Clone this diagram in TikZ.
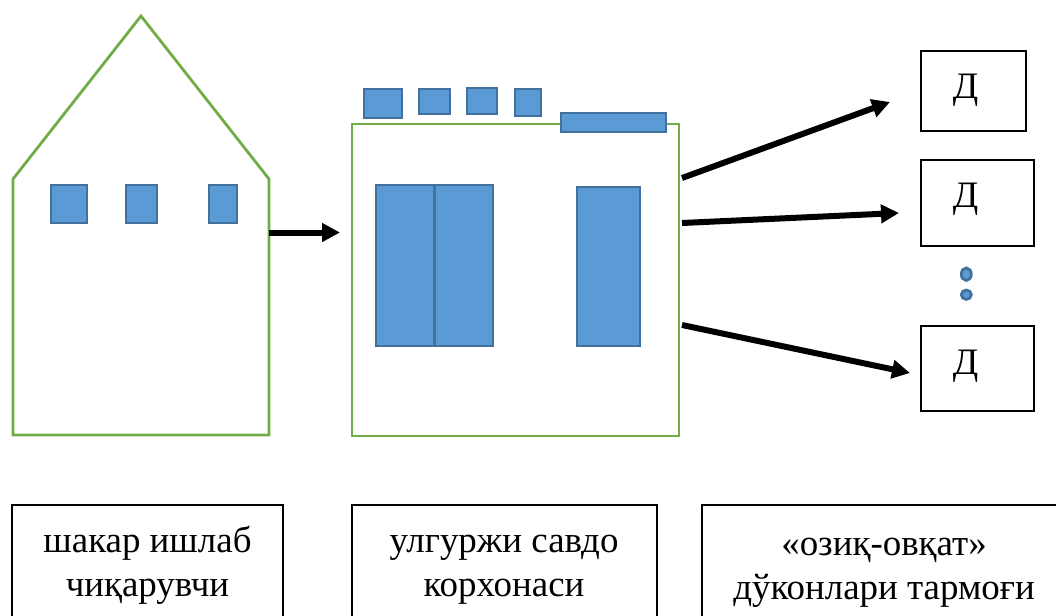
\documentclass[tikz,border=0pt]{standalone}
\usepackage{fontspec}
\setmainfont{Liberation Serif}
\usetikzlibrary{arrows.meta,shapes.geometric}
\definecolor{wallgreen}{HTML}{70AD47}
\definecolor{blockfill}{HTML}{5B9BD5}
\definecolor{blockline}{HTML}{41719C}
\tikzset{
  x=0.75pt,y=-0.75pt,
  wall/.style={draw=wallgreen,line width=2.1pt,line join=miter},
  block/.style={draw=blockline,fill=blockfill,line width=2.1pt},
  framebox/.style={draw=black,line width=2.1pt},
  flow/.style={draw=black,line width=4.5pt,-{Triangle[length=13.5pt,width=13.5pt]}},
  shoplabel/.style={font=\fontsize{28pt}{34pt}\selectfont},
  caption/.style={font=\fontsize{27.7pt}{33pt}\selectfont,align=center,inner sep=0pt,anchor=base}
}
% \bx{name}{x1}{y1}{x2}{y2}{style}{text}
\newcommand{\bx}[7]{%
  \pgfmathsetmacro{\bxw}{(#4-#2)*0.75}%
  \pgfmathsetmacro{\bxh}{(#5-#3)*0.75}%
  \node[#6,rectangle,inner sep=0pt,outer sep=0pt,minimum width=\bxw pt,minimum height=\bxh pt]
    (#1) at ({(#2+#4)/2},{(#3+#5)/2}) {#7};}
\begin{document}
\begin{tikzpicture}
\useasboundingbox (0,0) rectangle (1056,615);
\begin{scope}
\clip (0,0) rectangle (1056,615);
% house
\coordinate (hA) at (13,179);
\coordinate (hB) at (141,16);
\coordinate (hC) at (269,179);
\coordinate (hD) at (269,435);
\coordinate (hE) at (13,435);
\draw[wall] (hA) -- (hB) -- (hC) -- (hD) -- (hE) -- cycle;
\bx{w1}{51}{185}{87}{223}{block}{}
\bx{w2}{126}{185}{157}{223}{block}{}
\bx{w3}{209}{185}{237}{223}{block}{}
% warehouse
\bx{store}{352}{124}{679}{436}{wall}{}
\bx{t1}{364}{89}{402}{118}{block}{}
\bx{t2}{419}{89}{450}{114}{block}{}
\bx{t3}{467}{88}{497}{114}{block}{}
\bx{t4}{515}{89}{541}{116}{block}{}
\bx{roof}{561}{113}{666}{132}{block}{}
\bx{d1}{376}{185}{434}{346}{block}{}
\bx{d2}{435}{185}{493}{346}{block}{}
\bx{d3}{577}{187}{640}{346}{block}{}
% shops
\bx{s1}{921}{51}{1026}{131}{framebox}{}
\bx{s2}{921}{160}{1034}{246}{framebox}{}
\bx{s3}{921}{326}{1034}{411}{framebox}{}
\node[shoplabel,inner sep=0pt] (l1) at (965.5,90) {Д};
\node[shoplabel,inner sep=0pt] (l2) at (965.5,199.5) {Д};
\node[shoplabel,inner sep=0pt] (l3) at (965.5,366) {Д};
\node[block,ellipse,inner sep=0pt,minimum width=7.5pt,minimum height=9.4pt] (e1) at (966.3,274.2) {};
\node[block,ellipse,inner sep=0pt,minimum width=7.5pt,minimum height=7pt] (e2) at (966.3,294.7) {};
% arrows
\coordinate (a0s) at (269,232.5);
\coordinate (a0e) at (340,232.5);
\coordinate (a1s) at (682,178);
\coordinate (a1e) at (890,102);
\coordinate (a2s) at (682,223);
\coordinate (a2e) at (899,213);
\coordinate (a3s) at (682,325);
\coordinate (a3e) at (910,373);
\draw[flow] (a0s) -- (a0e);
\draw[flow] (a1s) -- (a1e);
\draw[flow] (a2s) -- (a2e);
\draw[flow] (a3s) -- (a3e);
% captions
\bx{c1}{12}{505}{283}{640}{framebox}{}
\bx{c2}{352}{505}{657}{640}{framebox}{}
\bx{c3}{702}{505}{1062}{640}{framebox}{}
\node[caption] (ct1) at (147.5,596) {шакар ишлаб\\чиқарувчи};
\node[caption] (ct2) at (504,596) {улгуржи савдо\\корхонаси};
\node[caption] (ct3) at (884,599) {«озиқ-овқат»\\дўконлари тармоғи};
\end{scope}
\end{tikzpicture}
\end{document}
